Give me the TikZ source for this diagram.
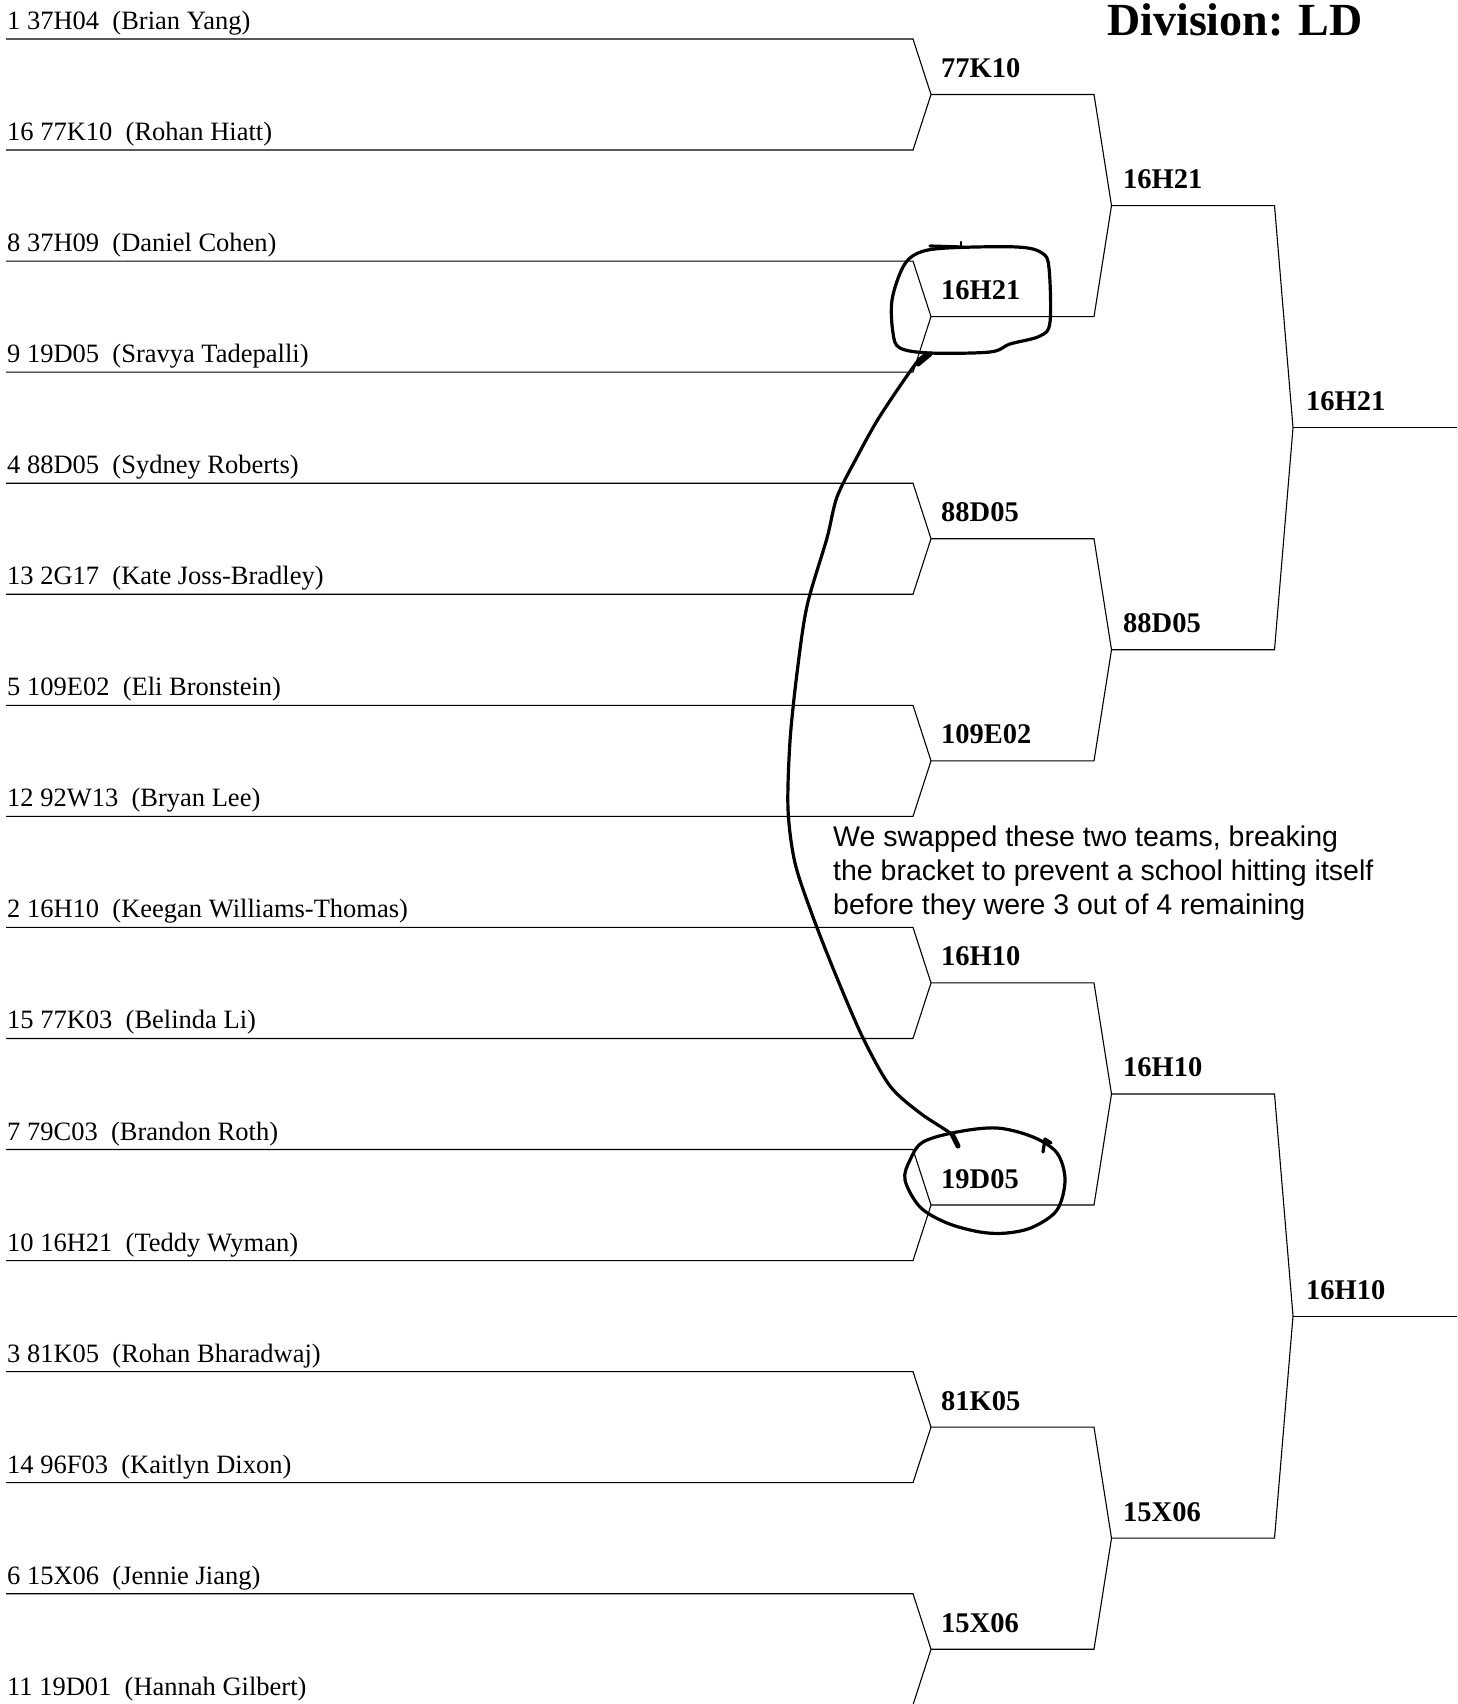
\documentclass[tikz,border=0pt]{standalone}
\usepackage{fontspec}
\setmainfont{Liberation Serif}
\newfontfamily\annotfont{Liberation Sans}
\begin{document}
\begin{tikzpicture}[x=1pt,y=-1pt,
  br/.style={draw=black, line width=1.1pt},
  entrant/.style={anchor=base west, inner sep=0pt, font=\fontsize{26.5}{30}\selectfont},
  winner/.style={anchor=base west, inner sep=0pt, font=\fontsize{28.5}{32}\selectfont\bfseries},
  pen/.style={draw=black, line width=3.2pt, line cap=round, line join=round}]
\useasboundingbox (0,0) rectangle (1457,1704);
\clip (0,0) rectangle (1457,1704);

% title
\node[anchor=base, inner sep=0pt, font=\fontsize{46}{50}\selectfont\bfseries] (title) at (1235,36) {Division: LD};

% round 1 entrants
\foreach \i/\txt in {
  1/{1 37H04~ (Brian Yang)},
  2/{16 77K10~ (Rohan Hiatt)},
  3/{8 37H09~ (Daniel Cohen)},
  4/{9 19D05~ (Sravya Tadepalli)},
  5/{4 88D05~ (Sydney Roberts)},
  6/{13 2G17~ (Kate Joss-Bradley)},
  7/{5 109E02~ (Eli Bronstein)},
  8/{12 92W13~ (Bryan Lee)},
  9/{2 16H10~ (Keegan Williams-Thomas)},
  10/{15 77K03~ (Belinda Li)},
  11/{7 79C03~ (Brandon Roth)},
  12/{10 16H21~ (Teddy Wyman)},
  13/{3 81K05~ (Rohan Bharadwaj)},
  14/{14 96F03~ (Kaitlyn Dixon)},
  15/{6 15X06~ (Jennie Jiang)},
  16/{11 19D01~ (Hannah Gilbert)}} {
  \pgfmathsetmacro\yy{39+111.05*(\i-1)}
  \coordinate (s\i) at (6,\yy);
  \coordinate (e\i) at (913,\yy);
  \node[entrant] (t\i) at (7,\yy-9.5) {\txt};
}

% round 1 junctions
\foreach \k/\w in {1/77K10,2/16H21,3/88D05,4/109E02,5/16H10,6/19D05,7/81K05,8/15X06} {
  \pgfmathtruncatemacro\a{2*\k-1}
  \pgfmathtruncatemacro\b{2*\k}
  \pgfmathsetmacro\yy{94.525+222.1*(\k-1)}
  \coordinate (ja\k) at (931,\yy);
  \coordinate (fa\k) at (1094,\yy);
  \draw[br] (s\a) -- (e\a) -- (ja\k) -- (e\b) -- (s\b);
  \node[winner] (wa\k) at (941,\yy-17) {\w};
}

% round 2
\foreach \k/\w in {1/16H21,2/88D05,3/16H10,4/15X06} {
  \pgfmathtruncatemacro\a{2*\k-1}
  \pgfmathtruncatemacro\b{2*\k}
  \pgfmathsetmacro\yy{205.575+444.2*(\k-1)}
  \coordinate (jb\k) at (1111.5,\yy);
  \coordinate (fb\k) at (1274.5,\yy);
  \draw[br] (ja\a) -- (fa\a) -- (jb\k) -- (fa\b) -- (ja\b);
  \node[winner] (wb\k) at (1123,\yy-17) {\w};
}

% round 3
\foreach \k/\w in {1/16H21,2/16H10} {
  \pgfmathtruncatemacro\a{2*\k-1}
  \pgfmathtruncatemacro\b{2*\k}
  \pgfmathsetmacro\yy{427.675+888.4*(\k-1)}
  \coordinate (jc\k) at (1293,\yy);
  \coordinate (fc\k) at (1457,\yy);
  \draw[br] (jb\a) -- (fb\a) -- (jc\k) -- (fb\b) -- (jb\b);
  \draw[br] (jc\k) -- (fc\k);
  \node[winner] (wc\k) at (1306,\yy-17) {\w};
}

% annotation text (anchor on last line's baseline)
\node[anchor=base west, align=left, inner sep=0pt, font=\annotfont\fontsize{28.5}{34}\selectfont] (note) at (833,914)
  {We swapped these two teams, breaking\\the bracket to prevent a school hitting itself\\before they were 3 out of 4 remaining};

% hand-drawn loop around 16H21
\draw[pen] plot[smooth cycle, tension=0.55] coordinates {
  (947,248) (1017,247) (1042,253) (1049,268) (1050,322) (1040,336)
  (1010,344) (990,352) (930,353) (900,348) (893,333) (892,300)
  (903,267) (918,253)};
\draw[pen] (930,246) -- (962,247);
\draw[pen, line width=2.4pt] (961,242) -- (961,248);

% hand-drawn loop around 19D05
\draw[pen] plot[smooth cycle, tension=0.55] coordinates {
  (923,1142) (957,1132) (997,1128) (1033,1137) (1057,1153) (1065,1180)
  (1057,1210) (1033,1227) (1007,1233) (980,1232) (947,1223) (920,1207)
  (905,1180) (910,1160)};
\draw[pen] (1043,1152) -- (1045,1139) -- (1051,1143);

% connecting stroke
\coordinate (cA) at (929,354);
\coordinate (cB) at (957,1143);
\draw[pen] plot[smooth, tension=0.5] coordinates {
  (cA) (917,362) (880,416) (857,457) (837,497) (827,538) (807,606)
  (797,673) (790,741) (788,809) (795,863) (813,917) (837,978)
  (863,1038) (890,1086) (920,1113) (950,1133) (cB)};
\draw[pen, line width=5pt] (930,354) -- (918,364);
\draw[pen, line width=5pt] (952,1134) -- (958,1146);
\end{tikzpicture}
\end{document}
